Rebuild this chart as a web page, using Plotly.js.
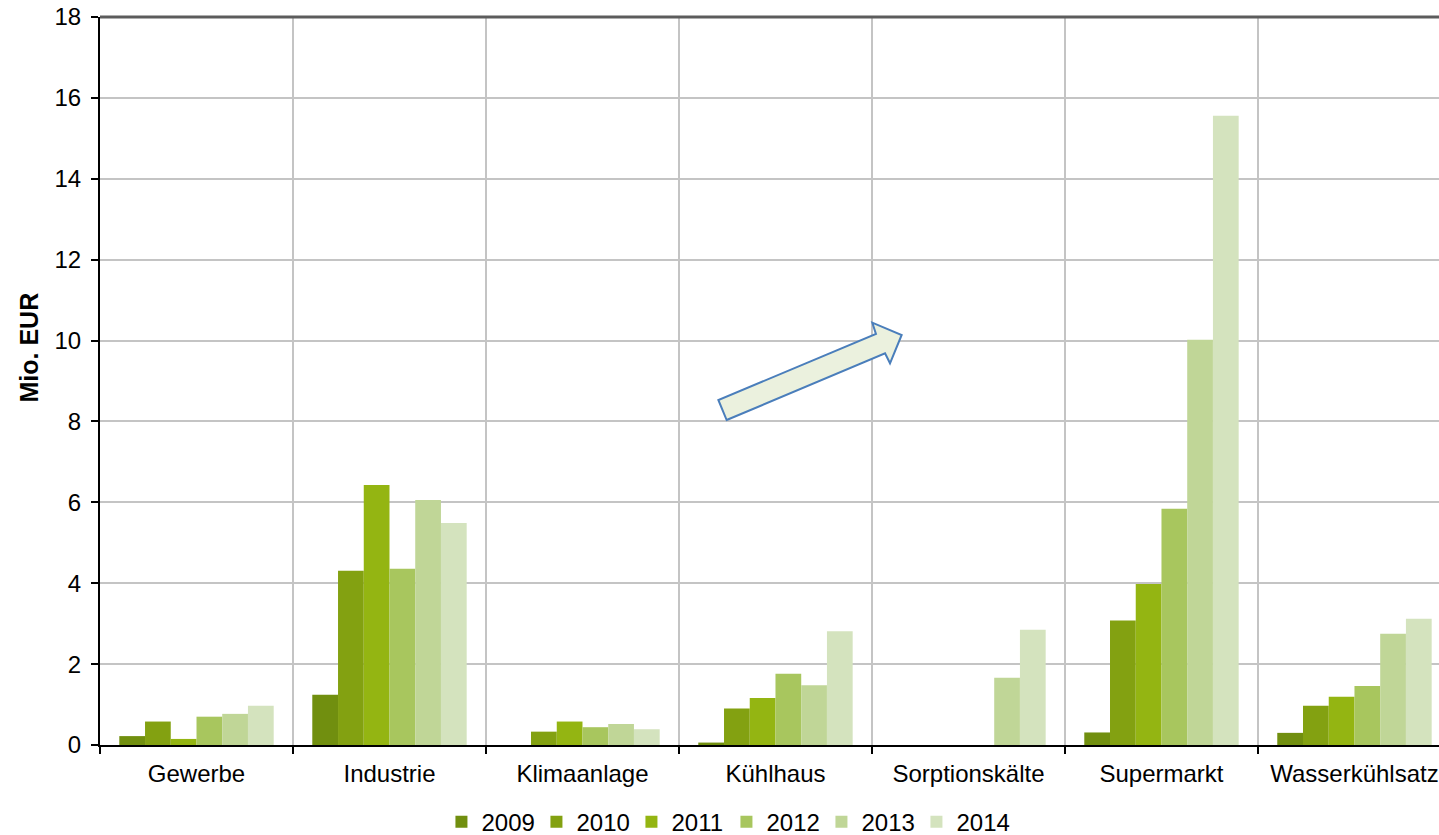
<!DOCTYPE html>
<html>
<head>
<meta charset="utf-8">
<script src="https://cdn.plot.ly/plotly-3.0.1.min.js"></script>
<style>
  html, body { margin: 0; padding: 0; background: #fff; overflow: hidden; }
  #chart { width: 1439px; height: 835px; }
</style>
</head>
<body>
<div id="chart"></div>
<script>
// Fördersumme je Anwendungsbereich und Jahr (Mio. EUR)
const categories = ['Gewerbe', 'Industrie', 'Klimaanlage', 'Kühlhaus', 'Sorptionskälte', 'Supermarkt', 'Wasserkühlsatz'];
const years = ['2009', '2010', '2011', '2012', '2013', '2014'];
const yAxisLabel = 'Mio. EUR';

const values2009 = [0.22, 1.24, 0,    0.06, 0,    0.31,  0.30];
const values2010 = [0.58, 4.31, 0.33, 0.90, 0,    3.08,  0.97];
const values2011 = [0.15, 6.43, 0.58, 1.16, 0,    3.98,  1.19];
const values2012 = [0.70, 4.36, 0.44, 1.76, 0,    5.84,  1.46];
const values2013 = [0.77, 6.06, 0.52, 1.48, 1.66, 10.02, 2.75];
const values2014 = [0.97, 5.49, 0.39, 2.81, 2.85, 15.56, 3.12];

const seriesValues = [values2009, values2010, values2011, values2012, values2013, values2014];
const seriesColors = ['#718f0f', '#83a111', '#94b512', '#a8c65e', '#c0d697', '#d4e3be'];

const textFont = { family: 'Liberation Sans, Arial, sans-serif', size: 24, color: '#000' };

const traces = years.map((yr, i) => ({
  type: 'bar',
  name: yr,
  x: categories,
  y: seriesValues[i],
  marker: { color: seriesColors[i], line: { width: 0 } },
  hoverinfo: 'x+y+name'
}));

// Blockpfeil als Hinweis, in Papierkoordinaten der Zeichenfläche
const arrowPath = 'M 0.4680 0.4464 L 0.5863 0.5380 L 0.5900 0.5243 L 0.5987 0.5632 ' +
                  'L 0.5768 0.5801 L 0.5795 0.5646 L 0.4618 0.4739 Z';

const layout = {
  width: 1439,
  height: 835,
  margin: { l: 100, r: 0, t: 17, b: 90, autoexpand: false },
  paper_bgcolor: '#fff',
  plot_bgcolor: '#fff',
  font: textFont,
  barmode: 'group',
  bargap: 0.2,
  bargroupgap: 0,
  showlegend: true,
  legend: {
    orientation: 'h',
    x: 0.255, xanchor: 'left',
    y: -0.106, yanchor: 'middle',
    font: textFont,
    entrywidth: 50,
    entrywidthmode: 'pixels',
    bgcolor: 'rgba(0,0,0,0)',
    traceorder: 'normal'
  },
  xaxis: {
    type: 'category',
    range: [-0.5, 6.438],
    tickson: 'boundaries',
    ticks: 'outside',
    ticklen: 7,
    tickwidth: 2,
    tickcolor: '#000',
    showline: true,
    linecolor: '#000',
    linewidth: 2,
    showgrid: true,
    gridcolor: '#c4c4c4',
    gridwidth: 2,
    tickfont: textFont,
    ticklabelstandoff: 6,
    fixedrange: true
  },
  yaxis: {
    range: [0, 18],
    dtick: 2,
    ticks: 'outside',
    ticklen: 7,
    tickwidth: 2,
    tickcolor: '#000',
    showline: true,
    linecolor: '#000',
    linewidth: 2,
    showgrid: true,
    gridcolor: '#c4c4c4',
    gridwidth: 2,
    zeroline: false,
    tickfont: textFont,
    ticklabelstandoff: 5,
    fixedrange: true
  },
  annotations: [
    {
      // Achsenbeschriftung, etwas oberhalb der Achsenmitte
      text: '<b>' + yAxisLabel + '</b>',
      xref: 'paper', yref: 'paper',
      x: 0, y: 0.546,
      xanchor: 'center', yanchor: 'middle',
      xshift: -71,
      textangle: -90,
      showarrow: false,
      font: { family: textFont.family, size: 25, color: '#000' }
    }
  ],
  shapes: [
    {
      type: 'line', xref: 'paper', yref: 'paper',
      x0: 0, x1: 1, y0: 1, y1: 1,
      line: { color: '#5c5c5c', width: 3 },
      layer: 'above'
    },
    {
      type: 'path', xref: 'paper', yref: 'paper',
      path: arrowPath,
      fillcolor: '#ebf1de',
      line: { color: '#4a7ebb', width: 2 },
      layer: 'above'
    }
  ]
};

Plotly.newPlot('chart', traces, layout, { displayModeBar: false, staticPlot: true });
</script>
</body>
</html>
